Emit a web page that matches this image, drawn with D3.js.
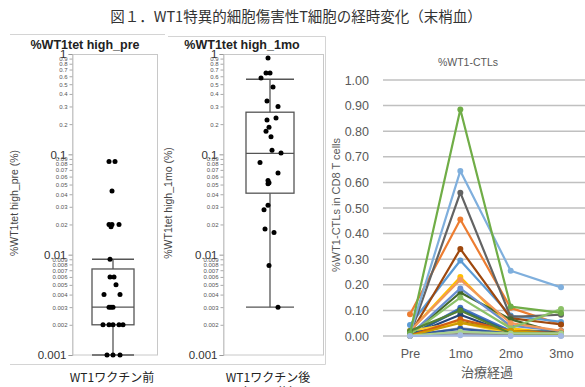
<!DOCTYPE html>
<html>
<head>
<meta charset="utf-8">
<script src="https://cdn.jsdelivr.net/npm/d3@7/dist/d3.min.js"></script>
<style>
  body { margin: 0; background: #fff; }
  svg { display: block; font-family: "Liberation Sans", Arial, sans-serif; }
</style>
</head>
<body>
<svg id="chart" width="585" height="387"></svg>
<script>
// ---- data ----
const preValues = [0.085, 0.085, 0.043, 0.02, 0.019, 0.02, 0.02, 0.009, 0.006, 0.006, 0.005, 0.004,
  0.004, 0.003, 0.003, 0.003, 0.002, 0.002, 0.002, 0.002, 0.002, 0.001, 0.001, 0.001];
const preJitter = [-4, 2, -1, -4, -2, -1, 6, -3, -3, 1, 3, -9, 7, -4, -2, 0, -10, -4, 0, 6, 10, -6, 0, 7];
const moValues = [0.91, 0.645, 0.645, 0.575, 0.47, 0.34, 0.30, 0.23, 0.22, 0.186, 0.17, 0.15, 0.11,
  0.103, 0.083, 0.065, 0.055, 0.052, 0.051, 0.031, 0.028, 0.018, 0.0166, 0.0078, 0.003];
const moJitter = [-2, -4, 0, -9, 3, -3, 8, 6, -3, -1, -4, 1, 2, 11, -10, 8, -2, -1, -2, -2, -6, -5, 4, -1, 8];
// min, q1, median, q3, max (whiskers)
const preBox = [0.001, 0.002, 0.003, 0.0072, 0.009];
const moBox = [0.003, 0.041, 0.102, 0.263, 0.56];
const majorTicks = [1, 0.1, 0.01, 0.001];
const minorTicks = [0.9, 0.8, 0.7, 0.6, 0.5, 0.4, 0.3, 0.2,
  0.09, 0.08, 0.07, 0.06, 0.05, 0.04, 0.03, 0.02,
  0.009, 0.008, 0.007, 0.006, 0.005, 0.004, 0.003, 0.002];

const timePoints = ["Pre", "1mo", "2mo", "3mo"];
const ctlTicks = [0, 0.1, 0.2, 0.3, 0.4, 0.5, 0.6, 0.7, 0.8, 0.9, 1.0];
const ctlSeries = [
  [0.002, 0.11, 0.02, 0.01],
  [0.085, 0.455, 0.11, 0.045],
  [0.001, 0.031, 0.01, 0.02],
  [0.02, 0.23, 0.03, 0.01],
  [0.043, 0.295, 0.08, 0.055],
  [0.002, 0.083, 0.01, 0.005],
  [0.006, 0.34, 0.07, 0.045],
  [0.003, 0.56, 0.075, 0.083],
  [0.002, 0.055, 0.02, 0.01],
  [0.004, 0.103, 0.015, 0.02],
  [0.003, 0.17, 0.065, 0.01],
  [0.005, 0.186, 0.04, 0.02],
  [0.02, 0.22, 0.05, 0.02],
  [0.002, 0.018, 0.005, 0.01],
  [0.02, 0.052, 0.01, 0.005],
  [0.009, 0.645, 0.255, 0.19],
  [0.006, 0.15, 0.03, 0.105],
  [0.004, 0.028, 0.01, 0.005],
  [0.002, 0.065, 0.02, 0.01],
  [0.001, 0.0078, 0.005, 0.002],
  [0.001, 0.051, 0.02, 0.005],
  [0.02, 0.10, 0.01, 0.01],
  [0.002, 0.0166, 0.01, 0.01],
  [0.01, 0.885, 0.115, 0.09],
  [0.0, 0.003, 0.0, 0.0]
];
const ctlColors = ["#4472C4", "#ED7D31", "#A5A5A5", "#FFC000", "#5B9BD5", "#264478", "#9E480E",
  "#636363", "#997300", "#255E91", "#43682B", "#698ED0", "#F1975A", "#B7B7B7", "#FFCD33",
  "#7FAFDD", "#8CC168", "#335AA1", "#D26012", "#848484", "#CC9A00", "#548235", "#A9D18E",
  "#70AD47", "#A3B8E2"];

const svg = d3.select("#chart");
const jp = "'Noto Sans CJK JP', sans-serif";

// page title
svg.append("text")
  .attr("x", 296).attr("y", 22)
  .attr("text-anchor", "middle")
  .style("font-family", jp).style("font-size", "14.5px").attr("fill", "#333")
  .text("図１．WT1特異的細胞傷害性T細胞の経時変化（末梢血）");

// panel frames (light grey)
const frame = svg.append("g").attr("stroke", "#d4d4d4").attr("fill", "none");
frame.append("line").attr("x1", 10).attr("x2", 165).attr("y1", 34.5).attr("y2", 34.5);
frame.append("line").attr("x1", 168).attr("x2", 325.5).attr("y1", 36.5).attr("y2", 36.5);
frame.append("line").attr("x1", 325.5).attr("x2", 325.5).attr("y1", 36.5).attr("y2", 364.5);
frame.append("line").attr("x1", 10).attr("x2", 325.5).attr("y1", 364.5).attr("y2", 364.5);

// ---- box plots ----
const y = d3.scaleLog().domain([0.001, 1]).range([355, 54]);

const panels = [
  { title: "%WT1tet high_pre", titleX: 85, axisTitle: "%WT1tet high_pre (%)", axisX: 18,
    cat: "WT1ワクチン前", catX: 112, x0: 72, x1: 157, cx: 113, half: 21,
    values: preValues, jitter: preJitter, box: preBox },
  { title: "%WT1tet high_1mo", titleX: 242, axisTitle: "%WT1tet high_1mo (%)", axisX: 172,
    cat: "WT1ワクチン後", catX: 268, x0: 223, x1: 323, cx: 270, half: 24,
    values: moValues, jitter: moJitter, box: moBox }
];

panels.forEach(p => {
  const g = svg.append("g");
  const jx = d3.scaleLinear().domain([-12, 12]).range([p.cx - 12, p.cx + 12]);

  g.append("text")
    .attr("x", p.titleX).attr("y", 49)
    .attr("text-anchor", "middle")
    .style("font-size", "12.5px").style("font-weight", "700").attr("fill", "#222")
    .text(p.title);

  // plot area frame
  g.append("rect")
    .attr("x", p.x0 + 0.5).attr("y", 54.5)
    .attr("width", p.x1 - p.x0).attr("height", 300.5)
    .attr("fill", "none").attr("stroke", "#c8c8c8");

  const major = g.append("g")
    .attr("transform", `translate(${p.x0 + 0.5},0)`)
    .call(d3.axisLeft(y).tickValues(majorTicks).tickFormat(d3.format("~g")).tickSize(4).tickPadding(2));
  major.select(".domain").attr("stroke", "#c8c8c8");
  major.selectAll(".tick line").attr("stroke", "#999");
  major.selectAll("text").style("font-size", "11.5px").attr("fill", "#333");

  const minor = g.append("g")
    .attr("transform", `translate(${p.x0 + 0.5},0)`)
    .call(d3.axisLeft(y).tickValues(minorTicks).tickFormat(d3.format("~g")).tickSize(3).tickPadding(2));
  minor.select(".domain").remove();
  minor.selectAll(".tick line").attr("stroke", "#aaa");
  minor.selectAll("text").style("font-size", "6px").attr("fill", "#555");

  g.append("text")
    .attr("transform", `translate(${p.axisX},203) rotate(-90)`)
    .attr("text-anchor", "middle")
    .style("font-size", "10.5px").attr("fill", "#444")
    .text(p.axisTitle);

  // box and whiskers
  const [lo, q1, med, q3, hi] = p.box;
  const bs = g.append("g").attr("stroke", "#555").attr("stroke-width", 1.3).attr("fill", "none");
  bs.append("line").attr("x1", p.cx).attr("x2", p.cx).attr("y1", y(hi)).attr("y2", y(q3));
  bs.append("line").attr("x1", p.cx).attr("x2", p.cx).attr("y1", y(q1)).attr("y2", y(lo));
  bs.append("rect")
    .attr("x", p.cx - p.half).attr("y", y(q3))
    .attr("width", p.half * 2).attr("height", y(q1) - y(q3));
  [lo, med, hi].forEach(v => {
    bs.append("line")
      .attr("x1", p.cx - p.half).attr("x2", p.cx + p.half)
      .attr("y1", y(v)).attr("y2", y(v));
  });

  g.append("g").selectAll("circle")
    .data(p.values)
    .join("circle")
    .attr("cx", (d, i) => jx(p.jitter[i]))
    .attr("cy", d => y(d))
    .attr("r", 2.5)
    .attr("fill", "#000");

  g.append("text")
    .attr("x", p.catX).attr("y", 382)
    .attr("text-anchor", "middle")
    .style("font-family", jp).style("font-size", "12px").attr("fill", "#222")
    .text(p.cat);
});

svg.append("text")
  .attr("x", 268).attr("y", 397)
  .attr("text-anchor", "middle")
  .style("font-family", jp).style("font-size", "12px").attr("fill", "#222")
  .text("（1ヶ月後）");

// ---- line chart ----
const xc = d3.scalePoint().domain(timePoints).range([410, 561]);
const yc = d3.scaleLinear().domain([0, 1]).range([336, 80]);
const lc = svg.append("g");

lc.append("text")
  .attr("x", 468).attr("y", 66)
  .attr("text-anchor", "middle")
  .style("font-size", "10.5px").attr("fill", "#595959")
  .text("%WT1-CTLs");

lc.append("g").selectAll("line")
  .data(ctlTicks)
  .join("line")
  .attr("x1", 383).attr("x2", 585)
  .attr("y1", d => yc(d)).attr("y2", d => yc(d))
  .attr("stroke", "#c0c0c0").attr("stroke-width", 1.5);

const ya = lc.append("g")
  .attr("transform", "translate(372,0)")
  .call(d3.axisLeft(yc).tickValues(ctlTicks).tickFormat(d3.format(".2f")).tickSize(0).tickPadding(3));
ya.select(".domain").remove();
ya.selectAll("text").style("font-size", "12.5px").attr("fill", "#595959");

const xa = lc.append("g")
  .attr("transform", "translate(0,340)")
  .call(d3.axisBottom(xc).tickSize(0).tickPadding(9));
xa.select(".domain").remove();
xa.selectAll("text").style("font-size", "12.5px").attr("fill", "#595959");

lc.append("text")
  .attr("x", 487).attr("y", 377)
  .attr("text-anchor", "middle")
  .style("font-family", jp).style("font-size", "13px").attr("fill", "#595959")
  .text("治療経過");

lc.append("text")
  .attr("transform", "translate(340,205) rotate(-90)")
  .attr("text-anchor", "middle")
  .style("font-size", "11px").attr("fill", "#595959")
  .text("%WT1-CTLs in CD8 T cells");

const line = d3.line().x((d, i) => xc(timePoints[i])).y(d => yc(d));
const sg = lc.append("g").selectAll("g")
  .data(ctlSeries)
  .join("g");
sg.append("path")
  .attr("d", d => line(d))
  .attr("fill", "none")
  .attr("stroke", (d, i) => ctlColors[i])
  .attr("stroke-width", 2.2)
  .attr("stroke-linejoin", "round");
sg.selectAll("circle")
  .data((d, i) => d.map((v, j) => ({ v, j, c: ctlColors[i] })))
  .join("circle")
  .attr("cx", d => xc(timePoints[d.j]))
  .attr("cy", d => yc(d.v))
  .attr("r", 3)
  .attr("fill", d => d.c);
</script>
</body>
</html>
